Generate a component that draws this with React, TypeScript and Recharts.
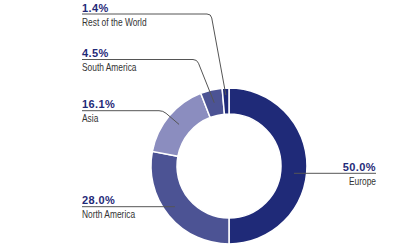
import React from 'react';
import { PieChart, Pie, Cell } from 'recharts';

const regions = ['Europe', 'North America', 'Asia', 'South America', 'Rest of the World'];
const shares = [50.0, 28.0, 16.1, 4.5, 1.4];
const colors = ['#1f2a78', '#4c5394', '#8b8dbf', '#4c5394', '#1f2a78'];

const data = regions.map((name, i) => ({ name, value: shares[i] }));

// label layout (positions of the callout texts)
const layout = [
  { side: 'right', lineY: 173.3, textX: 376 },
  { side: 'left', lineY: 206.7, textX: 82 },
  { side: 'left', lineY: 110.7, textX: 82, elbowX: 163 },
  { side: 'left', lineY: 59.5, textX: 82, elbowX: 197 },
  { side: 'left', lineY: 14, textX: 82, elbowX: 211 },
];

const RAD = Math.PI / 180;

const renderLabel = (props: any) => {
  const { cx, cy, midAngle, innerRadius, outerRadius, index } = props;
  const L = layout[index];
  const r = (innerRadius + outerRadius) / 2 + (index === 4 ? 6 : 0);
  const ax = cx + r * Math.cos(-midAngle * RAD);
  const ay = cy + r * Math.sin(-midAngle * RAD);
  let d = '';
  if (L.side === 'right') {
    d = `M ${ax} ${L.lineY} L ${L.textX} ${L.lineY}`;
  } else if (L.elbowX === undefined) {
    d = `M ${L.textX} ${L.lineY} L ${ax - 4} ${L.lineY}`;
  } else {
    const ex = L.elbowX;
    const dx = ax - ex;
    const dy = ay - L.lineY;
    const len = Math.sqrt(dx * dx + dy * dy);
    const c = 4;
    d = `M ${L.textX} ${L.lineY} L ${ex - c} ${L.lineY} Q ${ex} ${L.lineY} ${ex + (dx * c) / len} ${L.lineY + (dy * c) / len} L ${ax} ${ay}`;
  }
  const anchor = L.side === 'right' ? 'end' : 'start';
  return (
    <g key={`lbl-${index}`}>
      <path d={d} stroke="#555" strokeWidth={1} fill="none" />
      <text
        x={L.textX}
        y={L.lineY - 2.5}
        textAnchor={anchor}
        fill="#1f2a78"
        fontFamily="'Liberation Sans', Arial, sans-serif"
        fontWeight="bold"
        fontSize={11}
        letterSpacing={0.4}
      >
        {shares[index].toFixed(1)}%
      </text>
      <text
        transform={`translate(${L.textX},${L.lineY + 11.5}) scale(0.84,1)`}
        x={0}
        y={0}
        textAnchor={anchor}
        fill="#333"
        fontFamily="'Liberation Sans', Arial, sans-serif"
        fontSize={10}
      >
        {regions[index]}
      </text>
    </g>
  );
};

export default function App() {
  return (
    <div style={{ position: 'fixed', left: 0, top: 0, width: 408, height: 248, background: '#fff' }}>
      <PieChart width={408} height={248} margin={{ top: 0, right: 0, bottom: 0, left: 0 }}>
        <Pie
          data={data}
          dataKey="value"
          nameKey="name"
          cx={229}
          cy={166}
          innerRadius={52}
          outerRadius={78}
          startAngle={90}
          endAngle={-270}
          stroke="#fff"
          strokeWidth={1.5}
          label={renderLabel}
          labelLine={false}
          isAnimationActive={false}
        >
          {data.map((d, i) => (
            <Cell key={d.name} fill={colors[i]} />
          ))}
        </Pie>
      </PieChart>
    </div>
  );
}
